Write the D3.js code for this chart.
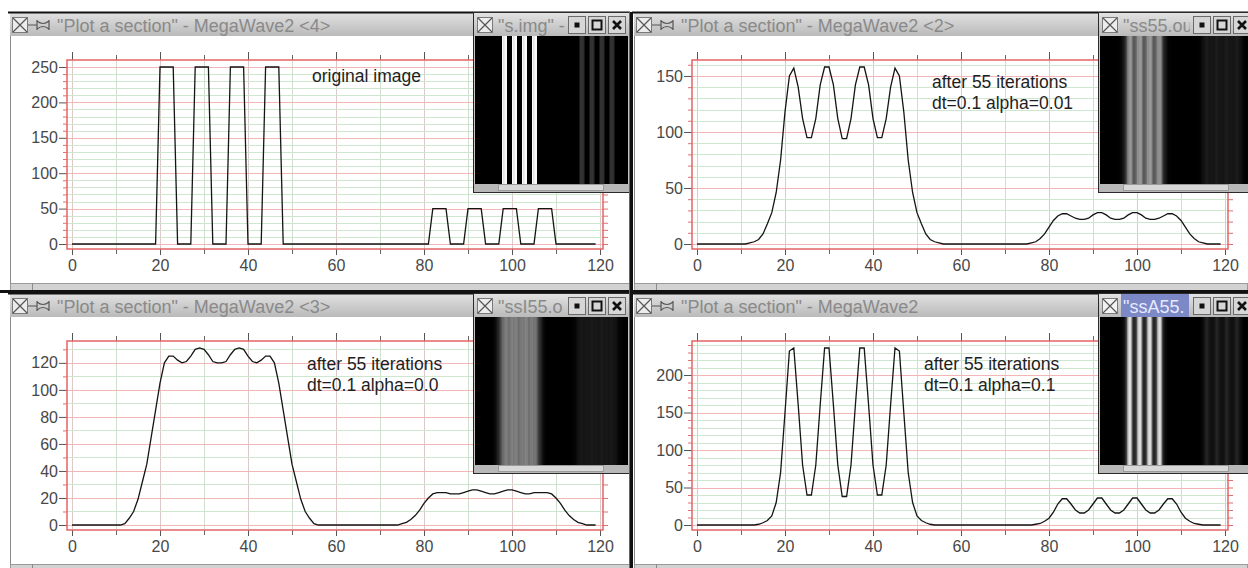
<!DOCTYPE html>
<html>
<head>
<meta charset="utf-8">
<script src="https://cdn.jsdelivr.net/npm/d3@7"></script>
<style>
  body { margin: 0; background: #fff; overflow: hidden; }
  svg { display: block; font-family: "Liberation Sans", Arial, sans-serif; }
</style>
</head>
<body>
<div id="plot"></div>
<script>
// section sample positions (pixel index along the image row)
const sectionX = d3.range(0, 120);

// values, one per sample
const originalValues = [
  0, 0, 0, 0, 0, 0, 0, 0, 0, 0,
  0, 0, 0, 0, 0, 0, 0, 0, 0, 0,
  250, 250, 250, 250, 0, 0, 0, 0, 250, 250,
  250, 250, 0, 0, 0, 0, 250, 250, 250, 250,
  0, 0, 0, 0, 250, 250, 250, 250, 0, 0,
  0, 0, 0, 0, 0, 0, 0, 0, 0, 0,
  0, 0, 0, 0, 0, 0, 0, 0, 0, 0,
  0, 0, 0, 0, 0, 0, 0, 0, 0, 0,
  0, 0, 50, 50, 50, 50, 0, 0, 0, 0,
  50, 50, 50, 50, 0, 0, 0, 0, 50, 50,
  50, 50, 0, 0, 0, 0, 50, 50, 50, 50,
  0, 0, 0, 0, 0, 0, 0, 0, 0, 0
];
const alpha001Values = [
  0, 0, 0, 0, 0, 0, 0, 0, 0, 0,
  0, 0, 1, 2, 4, 9, 18, 28, 46, 75,
  118, 150, 157, 140, 112, 95, 95, 112, 142, 158,
  158, 142, 112, 94, 94, 112, 142, 158, 158, 142,
  112, 95, 95, 112, 140, 157, 150, 118, 75, 46,
  28, 18, 9, 4, 2, 1, 0, 0, 0, 0,
  0, 0, 0, 0, 0, 0, 0, 0, 0, 0,
  0, 0, 0, 0, 0, 0, 1, 2, 5, 9,
  15, 21, 25, 27, 27, 25, 23, 22, 22, 23,
  26, 28, 28, 26, 23, 22, 22, 23, 26, 28,
  28, 26, 23, 22, 22, 23, 25, 27, 27, 25,
  21, 15, 9, 5, 2, 1, 0, 0, 0, 0
];
const alpha00Values = [
  0, 0, 0, 0, 0, 0, 0, 0, 0, 0,
  0, 0, 1, 5, 10, 19, 32, 45, 65, 85,
  105, 120, 125, 125, 122, 120, 121, 125, 130, 131,
  130, 126, 121, 120, 120, 121, 126, 130, 131, 130,
  125, 121, 120, 122, 125, 125, 120, 105, 85, 65,
  45, 32, 19, 10, 5, 1, 0, 0, 0, 0,
  0, 0, 0, 0, 0, 0, 0, 0, 0, 0,
  0, 0, 0, 0, 0, 1, 2, 4, 7, 11,
  16, 20, 23, 24, 24, 24, 23, 23, 23, 24,
  25, 26, 26, 25, 24, 23, 23, 24, 25, 26,
  26, 25, 24, 23, 23, 24, 24, 24, 24, 23,
  20, 16, 11, 7, 4, 2, 1, 0, 0, 0
];
const alpha01Values = [
  0, 0, 0, 0, 0, 0, 0, 0, 0, 0,
  0, 0, 0, 0, 1, 3, 6, 12, 30, 70,
  150, 232, 236, 160, 80, 40, 40, 80, 160, 236,
  236, 160, 80, 38, 38, 80, 160, 236, 236, 160,
  80, 40, 40, 80, 160, 236, 232, 150, 70, 30,
  12, 6, 3, 1, 0, 0, 0, 0, 0, 0,
  0, 0, 0, 0, 0, 0, 0, 0, 0, 0,
  0, 0, 0, 0, 0, 0, 0, 1, 2, 5,
  9, 17, 28, 35, 35, 28, 20, 16, 16, 20,
  28, 36, 36, 28, 20, 16, 16, 20, 28, 36,
  36, 28, 20, 16, 16, 20, 28, 35, 35, 28,
  17, 9, 5, 2, 1, 0, 0, 0, 0, 0
];

// tick labels
const xTicks = [0, 20, 40, 60, 80, 100, 120];
const yTicksOriginal = [0, 50, 100, 150, 200, 250];
const yTicksAlpha001 = [0, 50, 100, 150];
const yTicksAlpha00 = [0, 20, 40, 60, 80, 100, 120];
const yTicksAlpha01 = [0, 50, 100, 150, 200];

// texts
const windowTitles = [
  '"Plot a section" - MegaWave2 <4>',
  '"Plot a section" - MegaWave2 <2>',
  '"Plot a section" - MegaWave2 <3>',
  '"Plot a section" - MegaWave2'
];
const insetTitles = ['"s.img" -', '"ss55.ou', '"ssI55.o', '"ssA55.'];
const notes = [
  ["original image"],
  ["after 55 iterations", "dt=0.1 alpha=0.01"],
  ["after 55 iterations", "dt=0.1 alpha=0.0"],
  ["after 55 iterations", "dt=0.1 alpha=0.1"]
];

const W = 1248, H = 568;

// layout of the four windows
const panels = [
  { values: originalValues, yTicks: yTicksOriginal, ox: 0, oy: 0, winX: 10, winR: 630, noteX: 312, noteY: 82, active: false },
  { values: alpha001Values, yTicks: yTicksAlpha001, ox: 625, oy: 0, winX: 634, winR: W, noteX: 307, noteY: 88, active: false },
  { values: alpha00Values, yTicks: yTicksAlpha00, ox: 0, oy: 281, winX: 10, winR: 630, noteX: 307, noteY: 89, active: false },
  { values: alpha01Values, yTicks: yTicksAlpha01, ox: 625, oy: 281, winX: 634, winR: W, noteX: 299, noteY: 89, active: true }
];

const svg = d3.select("#plot")
  .append("svg")
  .attr("width", W)
  .attr("height", H);

const defs = svg.append("defs");
const grad = defs.append("linearGradient")
  .attr("id", "titleGrad")
  .attr("x1", 0).attr("x2", 0).attr("y1", 0).attr("y2", 1);
grad.append("stop").attr("offset", "0%").attr("stop-color", "#e2e2e2");
grad.append("stop").attr("offset", "100%").attr("stop-color", "#bababa");

svg.append("rect").attr("width", W).attr("height", H).attr("fill", "#fff");

function closeIcon(g, x, y, fill) {
  g.append("rect")
    .attr("x", x + 0.5).attr("y", y + 0.5)
    .attr("width", 15).attr("height", 15)
    .attr("fill", fill).attr("stroke", "#7a7a7a");
  g.append("path")
    .attr("d", `M${x + 1},${y + 1}L${x + 15},${y + 15}M${x + 15},${y + 1}L${x + 1},${y + 15}`)
    .attr("stroke", "#555").attr("stroke-width", 1.2);
}

// main window frame, title bar and scroll bar
function drawWindow(p, i) {
  const y0 = 12 + p.oy;
  const g = svg.append("g");
  g.append("rect")
    .attr("x", p.winX).attr("y", y0 + 24)
    .attr("width", p.winR - p.winX).attr("height", 247)
    .attr("fill", "#fff");
  g.append("rect")
    .attr("x", p.winX).attr("y", y0)
    .attr("width", p.winR - p.winX).attr("height", 24)
    .attr("fill", "url(#titleGrad)");
  g.append("line")
    .attr("x1", p.winX - 2).attr("x2", p.winR)
    .attr("y1", y0 + 0.5).attr("y2", y0 + 0.5)
    .attr("stroke", "#111").attr("stroke-width", 2);
  g.append("line")
    .attr("x1", p.winX + 0.5).attr("x2", p.winX + 0.5)
    .attr("y1", y0 + 24).attr("y2", y0 + 279)
    .attr("stroke", "#8a8a8a");
  // scroll bar
  g.append("rect")
    .attr("x", p.winX + 0.5).attr("y", y0 + 271.5)
    .attr("width", p.winR - p.winX - 1).attr("height", 7)
    .attr("fill", "#d2d2d2").attr("stroke", "#9a9a9a");
  g.append("line")
    .attr("x1", p.winX + 22.5).attr("x2", p.winX + 22.5)
    .attr("y1", y0 + 271).attr("y2", y0 + 279)
    .attr("stroke", "#8a8a8a");

  closeIcon(g, p.winX + 2, y0 + 5, "#ececec");
  const px = p.winX + 2, py = y0 + 5;
  g.append("path")
    .attr("d", `M${px + 16},${py + 8}H${px + 25}` +
      `M${px + 25},${py + 3}V${py + 13}M${px + 37},${py + 3}V${py + 13}` +
      `M${px + 25},${py + 4}Q${px + 31},${py + 9} ${px + 37},${py + 4}` +
      `M${px + 25},${py + 12}Q${px + 31},${py + 7} ${px + 37},${py + 12}`)
    .attr("fill", "none").attr("stroke", "#555").attr("stroke-width", 1.2);

  g.append("text")
    .attr("x", p.winX + 47).attr("y", y0 + 20)
    .attr("font-size", 18).attr("fill", "#8a8a8a")
    .text(windowTitles[i]);
}

// the section plot itself
function drawPlot(p, i) {
  const g = svg.append("g").attr("transform", `translate(${p.ox},${p.oy})`);
  const frame = { l: 67, r: 603, t: 60, b: 249 };

  const x = d3.scaleLinear().domain([0, 120]).range([72, 600]);
  const y = d3.scaleLinear().domain([0, d3.max(p.values)]).range([frame.b - 5, frame.t + 7]);

  const tens = d3.range(0, 121, 10);
  const xMinor = tens.filter(v => !xTicks.includes(v));
  const yTens = d3.range(0, y.invert(frame.t), 10);
  const yMinor = yTens.filter(v => !p.yTicks.includes(v));

  // grid
  g.append("g").selectAll("line")
    .data(tens)
    .join("line")
    .attr("x1", d => Math.round(x(d)) + 0.5).attr("x2", d => Math.round(x(d)) + 0.5)
    .attr("y1", frame.t).attr("y2", frame.b)
    .attr("stroke", d => xTicks.includes(d) ? "#dccaca" : "#cfe0cf");
  g.append("g").selectAll("line")
    .data(yTens)
    .join("line")
    .attr("x1", frame.l).attr("x2", frame.r)
    .attr("y1", d => Math.round(y(d)) + 0.5).attr("y2", d => Math.round(y(d)) + 0.5)
    .attr("stroke", d => p.yTicks.includes(d) ? "#f2b6b6" : "#cde6cd");

  // axes
  const style = (sel, color) => {
    sel.select(".domain").remove();
    sel.attr("color", color)
      .attr("font-size", 16)
      .attr("font-family", '"Liberation Sans", Arial, sans-serif');
    sel.selectAll("text").attr("fill", "#484848");
  };
  g.append("g").attr("transform", `translate(0,${frame.b})`)
    .call(d3.axisBottom(x).tickValues(xTicks).tickSize(6).tickPadding(5).tickSizeOuter(0))
    .call(s => style(s, "#555"));
  g.append("g").attr("transform", `translate(0,${frame.b})`)
    .call(d3.axisBottom(x).tickValues(xMinor).tickSize(5).tickFormat(""))
    .call(s => style(s, "#666"));
  g.append("g").attr("transform", `translate(0,${frame.t})`)
    .call(d3.axisTop(x).tickValues(xTicks).tickSize(8).tickFormat(""))
    .call(s => style(s, "#555"));
  g.append("g").attr("transform", `translate(0,${frame.t})`)
    .call(d3.axisTop(x).tickValues(xMinor).tickSize(5).tickFormat(""))
    .call(s => style(s, "#666"));
  g.append("g").attr("transform", `translate(${frame.l},0)`)
    .call(d3.axisLeft(y).tickValues(p.yTicks).tickSize(8).tickPadding(1))
    .call(s => style(s, "#555"));
  g.append("g").attr("transform", `translate(${frame.l},0)`)
    .call(d3.axisLeft(y).tickValues(yMinor).tickSize(4).tickFormat(""))
    .call(s => style(s, "#e07070"));
  g.append("g").attr("transform", `translate(${frame.r},0)`)
    .call(d3.axisRight(y).tickValues(yTens).tickSize(5).tickFormat(""))
    .call(s => style(s, "#e07070"));

  // red frame
  g.append("rect")
    .attr("x", frame.l).attr("y", frame.t)
    .attr("width", frame.r - frame.l).attr("height", frame.b - frame.t)
    .attr("fill", "none").attr("stroke", "#e36464").attr("stroke-width", 1.5);

  // the section curve
  const line = d3.line()
    .x((d, k) => x(sectionX[k]))
    .y(d => y(d));
  g.append("path")
    .datum(p.values)
    .attr("d", line)
    .attr("fill", "none")
    .attr("stroke", "#151515")
    .attr("stroke-width", 1.3);

  // annotation
  g.append("g").selectAll("text")
    .data(notes[i])
    .join("text")
    .attr("x", p.noteX)
    .attr("y", (d, k) => p.noteY + k * 21)
    .attr("font-size", 17.5)
    .attr("fill", "#1e1e1e")
    .text(d => d);
}

// small image window showing the row as grey stripes
function drawInset(p, i) {
  const g = svg.append("g").attr("transform", `translate(${p.ox},${p.oy})`);
  g.append("rect")
    .attr("x", 473.5).attr("y", 12.5)
    .attr("width", 156).attr("height", 180)
    .attr("fill", "#c4c4c4").attr("stroke", "#2a2a2a");
  g.append("rect")
    .attr("x", 474).attr("y", 13)
    .attr("width", 155).attr("height", 23)
    .attr("fill", "url(#titleGrad)");
  if (p.active) {
    g.append("rect")
      .attr("x", 496).attr("y", 13)
      .attr("width", 68).attr("height", 23)
      .attr("fill", "#7d88c6");
  }
  closeIcon(g, 477, 17, p.active ? "#f2f2f2" : "#ececec");
  g.append("text")
    .attr("x", 498).attr("y", 32)
    .attr("font-size", 18)
    .attr("fill", p.active ? "#e6eaff" : "#8a8a8a")
    .text(insetTitles[i]);

  // buttons
  g.append("rect")
    .attr("x", 565).attr("y", 13)
    .attr("width", 64).attr("height", 23)
    .attr("fill", "url(#titleGrad)");
  const bx = [568, 588, 608];
  bx.forEach((b, k) => {
    g.append("rect")
      .attr("x", b + 0.5).attr("y", 16.5)
      .attr("width", 17).attr("height", 17)
      .attr("fill", "#d6d6d6").attr("stroke", "#6a6a6a");
    const cx = b + 9, cy = 25;
    if (k === 0) {
      g.append("rect").attr("x", cx - 2.5).attr("y", cy - 2.5).attr("width", 5).attr("height", 5).attr("fill", "#111");
    } else if (k === 1) {
      g.append("rect").attr("x", cx - 4.5).attr("y", cy - 4.5).attr("width", 9).attr("height", 9)
        .attr("fill", "none").attr("stroke", "#111").attr("stroke-width", 2);
    } else {
      g.append("path").attr("d", `M${cx - 4},${cy - 4}L${cx + 4},${cy + 4}M${cx + 4},${cy - 4}L${cx - 4},${cy + 4}`)
        .attr("stroke", "#111").attr("stroke-width", 2.6);
    }
  });

  // image
  g.append("rect")
    .attr("x", 475).attr("y", 36)
    .attr("width", 153).attr("height", 148)
    .attr("fill", "#000");
  const imgX = d3.scaleLinear().domain([0, 120]).range([477, 627]);
  const grey = d3.scaleLinear().domain([0, 255]).range(["#000", "#fff"]).clamp(true);
  g.append("g").selectAll("rect")
    .data(p.values)
    .join("rect")
    .attr("x", (d, k) => imgX(sectionX[k]))
    .attr("y", 36)
    .attr("width", imgX(1) - imgX(0) + 0.4)
    .attr("height", 148)
    .attr("fill", d => grey(d));

  // scroll bar
  g.append("rect")
    .attr("x", 474).attr("y", 184)
    .attr("width", 155).attr("height", 8)
    .attr("fill", "#b8b8b8");
  g.append("rect")
    .attr("x", 498.5).attr("y", 184.5)
    .attr("width", 105).attr("height", 6)
    .attr("fill", "#d8d8d8").attr("stroke", "#9a9a9a");
}

panels.forEach(drawWindow);
panels.forEach(drawPlot);
panels.forEach(drawInset);

// borders between the windows
svg.append("rect").attr("x", 0).attr("y", 290).attr("width", W).attr("height", 3).attr("fill", "#111");
svg.append("rect").attr("x", 630).attr("y", 12).attr("width", 3).attr("height", H - 12).attr("fill", "#111");
svg.append("line").attr("x1", 629.5).attr("x2", 629.5).attr("y1", 12).attr("y2", H).attr("stroke", "#666");
</script>
</body>
</html>
